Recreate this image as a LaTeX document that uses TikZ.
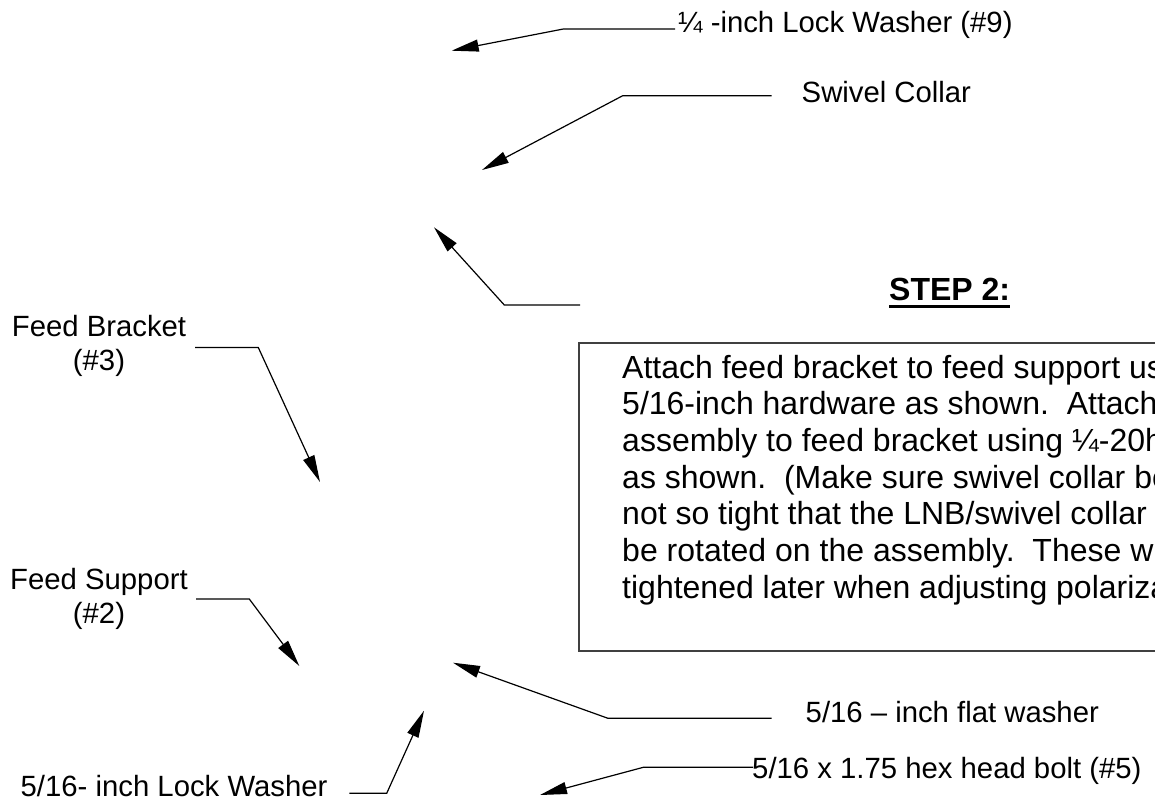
\documentclass[tikz,border=0pt]{standalone}
\usepackage{fontspec}
\setmainfont{Liberation Sans}
\usetikzlibrary{arrows.meta}
\definecolor{asmInk}{HTML}{000000}
\definecolor{asmFrame}{HTML}{404040}
\newcommand{\AsmLabel}{\fontsize{29.3}{34}\selectfont}
\newcommand{\AsmBody}{\fontsize{32}{36.7}\selectfont}
\tikzset{asm/base/.style={x=1pt,y=1pt,line cap=butt,line join=miter,
  every node/.style={font=\AsmLabel,inner sep=0pt,text=asmInk}},
  asm/leader/.style={-{Triangle[length=27pt,width=12pt]},draw=asmInk,line width=1.2pt},
  asm/frame/.style={draw=asmFrame,line width=1.3pt},
  asm/part/.style={anchor=base west},
  asm/pair/.style={anchor=north,align=center}}

\begin{document}
\begin{tikzpicture}[asm/base,y=-1pt]
  \useasboundingbox (0,0) rectangle (1155,804);
  \clip (0,0) rectangle (1155,804);
  \node[asm/part] (lockQ) at (678,32) {¼ -inch Lock Washer (\#9)};
  \node[asm/part] (swivel) at (801.5,102) {Swivel Collar};
  \node[asm/part,font=\AsmBody\bfseries] (step) at (889,300) {STEP 2:};
  \draw[line width=2.7pt] ([yshift=-6.5pt]step.base west)--([yshift=-6.5pt]step.base east);
  \node[asm/pair] (bracket) at (99,315) {Feed Bracket\\(\#3)};
  \node[asm/pair] (support) at (99,568) {Feed Support\\(\#2)};
  \node[asm/part] (lockF) at (20.5,796) {5/16- inch Lock Washer};
  \node[asm/part] (flat) at (805.5,722) {5/16 -- inch flat washer};
  \node[asm/part] (hex) at (752,778) {5/16 x 1.75 hex head bolt (\#5)};
  % the note runs off the right edge of the sheet
  \draw[asm/frame] (579,343) rectangle (1180,651);
  \foreach \n/\txt in {0/{Attach feed bracket to feed support us},
      1/{5/16-inch hardware as shown.\ \ Attach},
      2/{assembly to feed bracket using ¼-20h},
      3/{as shown.\ \ (Make sure swivel collar be},
      4/{not so tight that the LNB/swivel collar},
      5/{be rotated on the assembly.\ \ These w},
      6/{tightened later when adjusting polariza}}
    \node[asm/part,font=\AsmBody] (note\n) at (622,{378+36.7*\n}) {\txt};
  \coordinate (lockQend) at (675,29);    \coordinate (lockQbend) at (563.3,29);
  \coordinate (lockQtip) at (451.7,50.7);
  \coordinate (swivelEnd) at (771.7,95.7); \coordinate (swivelBend) at (622.7,95.7);
  \coordinate (swivelTip) at (482,170);
  \coordinate (spareEnd) at (580,305);   \coordinate (spareBend) at (504.3,305);
  \coordinate (spareTip) at (434,227.3);
  \coordinate (bracketEnd) at (195,347.5); \coordinate (bracketBend) at (258.3,347.5);
  \coordinate (bracketTip) at (320,482);
  \coordinate (supportEnd) at (196,599); \coordinate (supportBend) at (249.3,599);
  \coordinate (supportTip) at (299.3,666);
  \coordinate (lockFend) at (349.3,793.3); \coordinate (lockFbend) at (386.7,793.3);
  \coordinate (lockFtip) at (424,710.7);
  \coordinate (flatEnd) at (771.7,718.3); \coordinate (flatBend) at (608,718.3);
  \coordinate (flatTip) at (453,662.7);
  \coordinate (hexEnd) at (753,767.3);   \coordinate (hexBend) at (643.3,767.3);
  \coordinate (hexTip) at (540,795);
  \draw[asm/leader] (lockQend)--(lockQbend)--(lockQtip);
  \draw[asm/leader] (swivelEnd)--(swivelBend)--(swivelTip);
  \draw[asm/leader] (spareEnd)--(spareBend)--(spareTip);
  \draw[asm/leader] (bracketEnd)--(bracketBend)--(bracketTip);
  \draw[asm/leader] (supportEnd)--(supportBend)--(supportTip);
  \draw[asm/leader] (lockFend)--(lockFbend)--(lockFtip);
  \draw[asm/leader] (flatEnd)--(flatBend)--(flatTip);
  \draw[asm/leader] (hexEnd)--(hexBend)--(hexTip);
\end{tikzpicture}
\end{document}
